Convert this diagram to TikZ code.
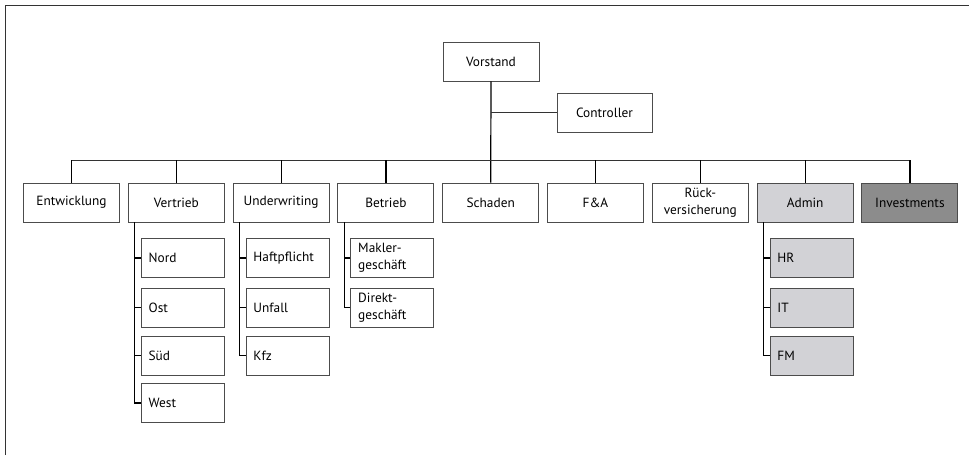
\documentclass[tikz,border=0pt]{standalone}
\usepackage{fontspec}
\setmainfont{PT Sans}
\definecolor{adminfill}{RGB}{210,210,214}
\definecolor{investfill}{RGB}{140,140,140}
\begin{document}
\begin{tikzpicture}[x=0.75pt,y=-0.75pt,
  box/.style={draw=black!70,line width=0.7pt,fill=white,inner sep=0pt,
    minimum width=72pt,minimum height=29.25pt,align=center,
    font=\fontsize{10}{12.75}\selectfont},
  subbox/.style={box,minimum width=62.25pt,inner xsep=5.5pt,text width=51.25pt,align=left},
  admin/.style={fill=adminfill},
  invest/.style={fill=investfill},
  conn/.style={line width=0.9pt,black},
  bus/.style={line width=0.6pt,black!80}]
\useasboundingbox (0,0) rectangle (969,455);
\draw[line width=0.7pt,black!80] (5,455) -- (5,5) -- (969,5);

\node[box] (vorstand) at (491,61.5) {Vorstand};
\node[box,minimum width=71.25pt] (controller) at (604.5,112.5) {Controller};

\node[box] (entw) at (71.5,202.5) {Entwicklung};
\node[box] (vertrieb) at (176.3,202.5) {Vertrieb};
\node[box] (underw) at (281.1,202.5) {Underwriting};
\node[box] (betrieb) at (385.9,202.5) {Betrieb};
\node[box] (schaden) at (490.7,202.5) {Schaden};
\node[box] (fa) at (595.5,202.5) {F\&A};
\node[box] (rueck) at (700.3,202.5) {Rück-\\versicherung};
\node[box,admin] (admin) at (805.1,202.5) {Admin};
\node[box,invest] (invest) at (909.9,202.5) {Investments};

\node[subbox] (nord) at (182.8,258) {Nord};
\node[subbox] (ost) at (182.8,307.5) {Ost};
\node[subbox] (sued) at (182.8,355.5) {Süd};
\node[subbox] (west) at (182.8,403) {West};

\node[subbox] (haft) at (287.6,258) {Haftpflicht};
\node[subbox] (unfall) at (287.6,307.5) {Unfall};
\node[subbox] (kfz) at (287.6,355.5) {Kfz};

\node[subbox] (makler) at (392.4,258) {Makler-\\geschäft};
\node[subbox] (direkt) at (392.4,307.5) {Direkt-\\geschäft};

\node[subbox,admin] (hr) at (811.6,258) {HR};
\node[subbox,admin] (it) at (811.6,307.5) {IT};
\node[subbox,admin] (fm) at (811.6,355.5) {FM};

\coordinate (bus) at (491,160);
\draw[conn] (vorstand.south) -- (schaden.north);
\draw[bus] (controller.west) -- (controller.west -| vorstand.south);
\draw[bus] (entw.north |- bus) -- (invest.north |- bus);
\foreach \n in {entw,vertrieb,underw,betrieb,fa,rueck,admin,invest}
  \draw[conn] (\n.north) -- (\n.north |- bus);

\draw[conn] ([xshift=5.25pt]vertrieb.south west) |- (west.west);
\foreach \n in {nord,ost,sued} \draw[conn] (\n.west) -- ++(-6,0);
\draw[conn] ([xshift=5.25pt]underw.south west) |- (kfz.west);
\foreach \n in {haft,unfall} \draw[conn] (\n.west) -- ++(-6,0);
\draw[conn] ([xshift=5.25pt]betrieb.south west) |- (direkt.west);
\draw[conn] (makler.west) -- ++(-6,0);
\draw[conn] ([xshift=5.25pt]admin.south west) |- (fm.west);
\foreach \n in {hr,it} \draw[conn] (\n.west) -- ++(-6,0);
\end{tikzpicture}
\end{document}
